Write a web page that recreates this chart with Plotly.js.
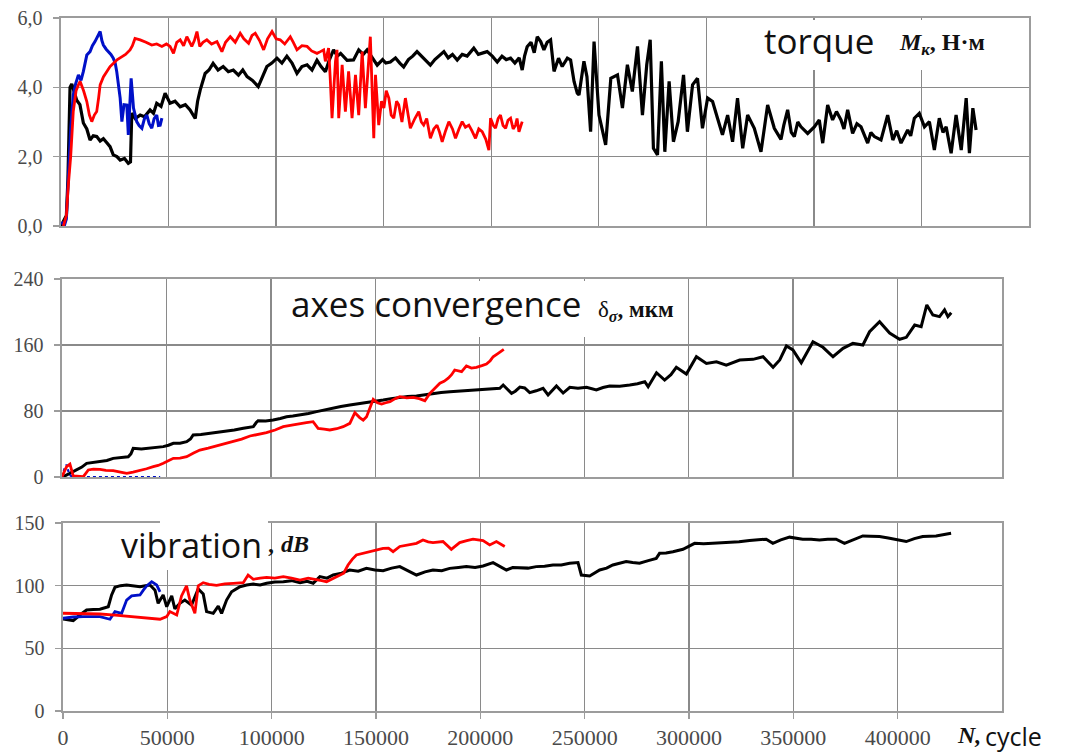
<!DOCTYPE html>
<html>
<head>
<meta charset="utf-8">
<script src="https://cdn.plot.ly/plotly-3.0.1.min.js"></script>
<style>html,body{margin:0;padding:0;background:#fff;}#chart{width:1066px;height:753px;}</style>
</head>
<body>
<div id="chart"></div>
<script>
// ---------- DATA ----------
// Torque M, N·m
const torqueBlack = [[0,0],[2500,0.3],[3200,1.3],[4200,4.0],[5000,4.1],[6000,3.9],[7300,3.63],[8800,3.5],[10400,2.97],[12000,2.8],[13500,2.48],[15000,2.6],[16600,2.58],[18200,2.45],[19700,2.52],[21300,2.4],[22800,2.29],[24300,2.05],[26000,2.0],[27500,1.9],[29500,1.95],[31300,1.81],[32300,1.85],[32900,3.26],[34500,3.1],[36800,3.2],[38800,3.15],[41400,3.35],[43000,3.25],[44500,3.54],[46500,3.45],[48400,3.83],[50700,3.54],[53000,3.6],[55400,3.44],[57800,3.5],[60000,3.35],[62400,3.1],[63500,3.6],[64700,3.92],[67000,4.4],[68800,4.5],[70700,4.69],[73000,4.5],[75400,4.6],[77800,4.45],[80100,4.5],[82500,4.35],[84500,4.5],[86500,4.31],[89000,4.2],[91700,4.02],[93500,4.3],[95700,4.6],[98000,4.7],[100400,4.84],[102700,4.7],[105000,4.9],[107400,4.7],[109700,4.4],[112000,4.6],[114400,4.65],[116700,4.5],[119000,4.78],[120900,4.6],[122900,4.45],[124800,4.8],[126700,5.08],[128500,4.9],[130000,4.98],[133000,4.78],[136000,4.79],[138400,5.08],[140500,4.95],[142300,5.08],[144600,4.85],[147000,4.64],[149500,4.8],[151000,4.7],[153100,4.73],[155500,4.85],[157500,4.7],[159300,4.59],[161500,4.8],[163500,4.9],[165500,5.03],[167500,4.9],[169600,4.75],[171700,4.64],[173800,4.8],[175800,4.9],[178000,5.03],[180000,4.85],[182000,4.95],[184200,4.79],[186500,4.95],[188800,4.9],[191900,5.13],[194000,4.95],[196000,5.0],[198100,5.03],[200500,4.9],[202800,4.73],[205000,4.9],[207000,4.8],[209000,4.84],[211000,4.7],[213000,4.85],[214400,4.5],[215500,4.9],[216700,5.17],[218500,5.3],[220000,5.0],[221400,5.46],[223000,5.32],[224500,5.08],[226000,5.3],[227600,5.37],[229200,4.46],[231300,4.84],[233000,4.6],[235400,4.84],[236900,4.79],[238500,4.17],[240000,3.83],[240800,3.78],[243100,4.75],[244500,4.31],[246200,2.72],[247800,5.32],[250100,3.2],[253200,2.34],[255600,4.26],[258700,4.36],[261000,3.4],[263300,4.65],[265600,3.88],[268000,5.18],[270300,3.2],[272300,4.65],[273900,5.37],[275400,2.24],[277300,2.05],[279100,4.75],[280700,2.14],[282700,4.17],[284700,2.43],[286900,3.01],[289400,4.36],[291200,2.72],[293600,4.07],[295900,4.26],[298200,2.82],[300600,3.69],[302900,3.59],[305200,3.11],[307500,2.63],[309900,3.2],[312200,2.43],[314500,3.69],[316900,2.24],[319200,3.2],[322300,2.82],[325400,2.14],[328500,3.49],[331600,2.82],[334700,2.5],[336000,2.9],[337800,3.35],[339500,2.7],[340900,2.58],[342500,3.0],[344000,2.86],[347100,2.67],[350200,2.86],[352500,3.06],[354100,2.39],[356400,3.49],[358700,3.06],[360500,3.3],[362600,3.06],[364000,2.8],[365700,3.35],[368000,2.67],[370000,2.95],[371900,2.86],[373500,2.6],[375000,2.39],[376500,2.7],[378100,2.58],[381200,2.48],[384300,3.2],[386700,2.48],[388500,2.75],[390500,2.39],[393600,2.77],[395000,2.6],[396700,3.11],[399000,3.25],[401400,2.86],[403700,3.01],[406000,2.19],[408300,3.11],[410000,2.7],[411500,2.86],[413800,2.1],[416100,3.2],[418500,2.19],[420800,3.69],[422300,2.1],[423900,3.4],[425400,2.77]];
const torqueRed = [[1100,0],[2500,0.3],[3400,1.18],[4500,2.0],[5700,3.3],[7000,3.9],[8100,4.07],[8900,4.17],[10500,3.9],[12000,3.59],[13200,3.2],[14300,3.01],[15500,3.2],[16600,3.3],[17500,3.7],[18200,4.07],[19700,4.3],[21300,4.46],[22800,4.6],[24300,4.69],[26200,4.8],[28200,4.88],[30000,4.95],[32100,5.08],[33200,5.2],[34400,5.41],[36800,5.37],[39500,5.3],[42200,5.22],[44500,5.25],[46900,5.18],[49000,5.25],[50700,5.18],[52300,4.98],[53800,5.3],[55400,5.37],[57000,5.2],[58500,5.46],[60800,5.18],[62000,5.35],[63200,5.61],[64500,5.18],[66000,5.3],[67800,5.37],[70000,5.25],[72500,5.32],[74800,5.03],[76500,5.3],[78700,5.46],[81000,5.3],[83300,5.56],[85000,5.4],[87200,5.27],[88800,5.5],[90300,5.56],[92300,5.35],[94200,5.08],[96000,5.4],[98100,5.61],[100000,5.4],[101900,5.37],[104000,5.25],[106600,5.46],[108000,5.3],[109700,5.08],[112000,5.2],[114400,5.18],[116500,5.05],[119000,4.98],[120600,5.03],[122100,5.08],[122900,4.75],[124400,5.13],[125200,4.21],[126000,3.11],[127600,4.75],[128300,5.08],[129100,3.11],[130700,4.65],[132200,3.3],[133700,4.46],[135300,3.11],[136900,4.36],[138400,3.2],[140000,5.03],[141500,3.4],[142800,4.6],[143800,5.46],[145400,2.53],[146200,4.36],[147700,2.91],[149000,3.6],[150100,3.4],[151200,3.9],[152400,3.69],[153500,3.2],[154700,3.11],[156000,3.6],[157000,3.5],[158500,3.0],[160100,3.69],[161200,3.2],[162400,2.82],[164500,3.1],[166300,3.3],[167500,3.0],[168600,2.91],[170000,3.1],[171700,2.53],[173300,2.8],[174800,2.91],[176000,2.7],[177200,2.43],[178800,2.75],[180300,3.01],[182000,2.8],[183400,2.53],[185000,2.8],[186500,3.01],[188000,2.85],[189600,2.91],[191000,2.75],[192700,2.53],[194200,2.8],[195800,2.72],[197500,2.5],[198900,2.19],[199700,3.11],[201000,2.9],[202000,2.82],[203200,3.1],[204300,3.2],[205500,2.9],[206700,2.82],[207800,3.05],[209000,3.11],[210200,2.8],[211300,2.91],[212000,3.1],[212900,2.72],[214400,3.01]];
const torqueBlue = [[300,0.12],[1500,0],[2500,0.2],[3400,1.38],[4500,2.8],[5700,3.78],[6800,4.1],[8100,4.36],[9300,4.2],[10400,4.46],[12000,4.93],[13500,5.03],[14600,5.2],[15800,5.32],[17000,5.45],[18200,5.61],[19000,5.35],[19700,5.22],[21000,5.1],[22000,5.03],[23200,4.95],[24300,4.84],[25200,4.7],[25900,4.46],[26700,4.1],[27500,3.69],[28300,3.01],[29300,3.5],[30600,3.49],[31300,2.63],[32000,3.5],[32600,4.26],[33200,3.8],[33700,3.4],[34500,3.2],[35200,3.01],[36300,2.9],[37600,2.82],[38800,3.1],[39900,3.2],[41000,2.95],[42200,2.82],[43300,3.1],[44500,3.2],[45300,2.9],[46100,2.91],[46900,3.11]];

// Axes convergence δ, µm
const convBlack = [[0,0],[600,0.4],[3500,4],[7000,8.5],[9500,12],[11800,16.6],[15000,17.5],[18200,18.6],[21500,20],[24500,22.6],[28000,23.5],[31700,24.6],[33000,28],[34100,34.7],[38000,34],[41500,34.7],[45000,35.5],[48500,36.8],[51000,38.5],[53300,40.8],[56500,41],[59700,42.8],[61500,46],[62800,50.9],[66500,51.5],[70800,52.9],[74500,53.5],[78900,55],[82500,57],[86800,59],[89500,60],[91600,61],[93000,66],[93900,68.3],[97500,68],[101100,69],[104500,71],[107500,73],[110500,74],[113900,75],[118000,77],[121900,79.2],[126000,81.5],[129800,84],[133500,85.5],[137800,87.3],[141500,88.5],[145800,90],[150000,91.5],[153800,93.3],[157500,95],[161700,96.6],[165500,97.5],[169700,98.2],[173500,99.8],[177700,101.4],[181500,102.3],[185700,103.4],[189500,104],[193600,104.6],[197500,105],[201600,105.5],[205500,106.5],[209600,107.5],[211200,111.5],[213000,107],[215200,101.4],[217000,104],[219200,109],[221500,108],[223900,102.2],[227000,104.5],[230300,107.5],[232700,99.4],[234800,105],[236700,110.3],[239900,101.8],[243100,108.7],[247000,107.5],[251100,108.7],[255800,105.5],[259000,108.5],[262200,110.3],[267000,110],[271800,111.5],[275500,113],[279000,115.5],[280600,109.5],[284600,126.4],[288500,117.5],[291500,124],[294100,132.9],[298900,124.8],[303700,145.8],[308500,137.7],[313300,139.7],[318000,135.7],[321000,139],[324400,141.8],[330800,142.6],[335600,145.8],[340400,132.9],[343600,141.8],[346800,158.8],[349900,154],[353900,138.5],[359500,164],[364300,157.2],[369100,145.8],[373900,156],[378600,162],[383400,160],[386600,176.1],[391400,188.2],[396200,174.5],[401000,166.9],[404200,169.3],[408200,184.2],[411300,182.2],[414000,208.5],[416900,196.4],[420100,194.4],[422500,202.5],[424100,194.4],[425700,199.2]];
const convRed = [[0,0.4],[2200,12.5],[3800,15.7],[5400,1.2],[10200,0.4],[12600,8.5],[15000,9.5],[18200,9.3],[21000,8],[24500,7.7],[28000,6],[31000,4.4],[34000,6],[37300,7.7],[40500,10],[43700,12.5],[46000,14],[48500,16.6],[51000,20],[53300,22.6],[56500,23],[59700,24.6],[63000,29],[66000,32.7],[70000,35],[74000,37.6],[78000,40],[82000,42.8],[86000,46],[90000,49.7],[94000,51.5],[97900,53.7],[102000,57],[105900,61],[110000,63],[113900,65],[117000,66],[120200,67],[121500,63],[122600,59],[125500,58],[128200,57],[131500,58.5],[134600,61],[137800,65],[140200,78],[142500,72],[144200,69],[145800,73],[147500,85],[149000,94.2],[151000,90],[153000,88.5],[155000,90],[157000,91.3],[159500,95],[161700,97.4],[165000,96],[168100,96.6],[171000,95],[173700,92.5],[176100,101.4],[178500,107],[180900,113.6],[182900,116],[184900,119.7],[186500,124],[188000,129.7],[191300,127.7],[193600,134.6],[196000,132],[198400,132.9],[201000,135],[203200,137],[205000,141],[206400,145.8],[208800,149.9],[211500,154.7]];
const convBlue = [[0,0],[1200,10],[2200,15],[3500,3],[5000,0],[47000,0]];

// Vibration, dB
const vibBlack = [[0,73.5],[2500,73],[4900,72],[8100,76.6],[11300,80.6],[14500,81],[17700,81.2],[21700,83.2],[23300,92.6],[24900,98.7],[27500,100],[30500,100.5],[34000,99.8],[36900,99.2],[39500,100],[41700,100.5],[44100,96.4],[45600,85.9],[48000,92.6],[49700,83.2],[52100,91.8],[53600,81.5],[56000,85.9],[58400,88.5],[61600,84.5],[64800,97.4],[67200,93.4],[68800,79.3],[72000,77.9],[74400,83.7],[76000,77.9],[78400,88.5],[80800,95.1],[84800,99.2],[88000,100.5],[91200,101.3],[94500,100.5],[97600,101.9],[101500,103],[105600,103.2],[109500,104],[113600,102.4],[117000,103.5],[119900,101.9],[123100,107.2],[126500,106],[129500,108.5],[133500,110],[137400,112.5],[141500,111.5],[145400,113.8],[149500,112.5],[153400,112],[157500,114],[161400,115.2],[165000,112],[169400,108.5],[173500,111],[177300,112.5],[181500,112],[185300,113.8],[189500,114.5],[193300,115.2],[197500,114.5],[201300,115.7],[206100,118.4],[209500,115],[212500,112.5],[215500,114.5],[218900,114.5],[222800,114],[226800,115.2],[230800,115.5],[234800,116.5],[238800,116.5],[242800,117.9],[246800,118.4],[248400,108.5],[252400,107.7],[257200,112.5],[260500,114],[263500,116.5],[266500,117.5],[269900,119.2],[273000,118.5],[276300,117.9],[280500,120],[284300,121.8],[285900,125.8],[289000,126],[292300,127.1],[297100,129],[302700,133.8],[307000,133.5],[311400,133.8],[315500,134],[319400,134.4],[324000,135],[329000,136],[333000,136.5],[337000,137.1],[340200,133.8],[344000,136.5],[348200,138.7],[354500,137.1],[358500,137],[362500,136.5],[366500,137],[370500,137.1],[374500,133.8],[379000,137],[383300,139.7],[387000,139.5],[391300,139.2],[395500,138],[399300,136.5],[404100,135.2],[408000,137.5],[412000,139.2],[418400,139.7],[422000,140.5],[425600,141.8]];
const vibRed = [[0,78],[5000,77.8],[10000,77.6],[17700,77.4],[25000,76.5],[33700,75.3],[40000,74.5],[46500,73.2],[49700,75.3],[51200,79.3],[54500,76.6],[56800,91.8],[59200,99.8],[60800,88.5],[63200,78],[64800,99.8],[67200,102.4],[70000,101],[73600,100.2],[77500,101.5],[81600,101.9],[86400,102.4],[88700,108.5],[91200,105.1],[94500,106],[97600,106.6],[101500,106],[105600,107.2],[109500,106],[113600,104.5],[117500,106],[121500,105.1],[124000,104],[126300,103.2],[129500,106],[132700,108.5],[134500,110],[136600,116.5],[138600,121],[140600,124.5],[143000,125.5],[145400,126.3],[149500,128],[153400,129.8],[156000,130],[158200,127.1],[161400,131.3],[165500,132.5],[169400,133.8],[172500,136.5],[175000,135],[177300,134.4],[182100,135.2],[186100,129],[190100,134.4],[193500,136],[196500,137.1],[201300,136],[204500,132.5],[207700,135.2],[210000,133],[211700,131.3]];
const vibBlue = [[0,74],[5000,75],[9700,75.3],[17700,75.3],[22500,73.2],[24900,79.3],[28100,78],[30500,88.5],[32900,91.8],[36900,92.6],[38500,96.4],[40100,99.8],[42500,103.2],[44900,100.5],[46500,95.1]];

const xTickVals = [0,50000,100000,150000,200000,250000,300000,350000,400000];
const xTickText = ['0','50000','100000','150000','200000','250000','300000','350000','400000'];
const xGridVals = [0,50000,100000,150000,200000,250000,300000,350000,400000,450000];
const torqueTicks = [0,2,4,6];
const torqueTickText = ['0,0','2,0','4,0','6,0'];
const convTicks = [0,80,160,240];
const vibTicks = [0,50,100,150];

// ---------- CHART ----------
const W = 1066, H = 753;
const px = v => v / W;
const py = v => 1 - v / H;

function tr(data, xa, ya, color, width, dash) {
  return {
    x: data.map(d => d[0]), y: data.map(d => d[1]),
    xaxis: xa, yaxis: ya, type: 'scatter', mode: 'lines',
    line: {color: color, width: width, dash: dash || 'solid'},
    hoverinfo: 'skip', showlegend: false
  };
}

const BLACK = '#000000', RED = '#ff0000', BLUE = '#0010c8';
const traces = [
  tr(torqueBlack, 'x', 'y', BLACK, 3.2),
  tr(torqueBlue, 'x', 'y', BLUE, 3),
  tr(torqueRed, 'x', 'y', RED, 2.8),
  tr(convBlack, 'x2', 'y2', BLACK, 3),
  tr(convBlue, 'x2', 'y2', BLUE, 2.2, 'dot'),
  tr(convRed, 'x2', 'y2', RED, 2.8),
  tr(vibBlack, 'x3', 'y3', BLACK, 3),
  tr(vibBlue, 'x3', 'y3', BLUE, 2.8),
  tr(vibRed, 'x3', 'y3', RED, 2.8)
];

const GRID = '#8a8a8a', LINE = '#9c9c9c', TICKC = '#4a4a4a';
function xax(domain, anchor, labels) {
  return {
    domain: domain, anchor: anchor, range: [0, 450000], fixedrange: true,
    tickmode: 'array', tickvals: labels ? xTickVals : xGridVals,
    ticktext: labels ? xTickText : xGridVals.map(String),
    showticklabels: labels, ticks: labels ? 'outside' : '', ticklen: 6, tickcolor: LINE, tickwidth: 1.3,
    ticklabelstandoff: 0,
    showgrid: true, gridcolor: GRID, gridwidth: 1.3, zeroline: false,
    showline: true, linecolor: LINE, linewidth: 1.6, mirror: true,
    tickfont: {family: 'Liberation Serif', size: 22, color: TICKC}
  };
}
function yax(domain, anchor, range, vals, text) {
  return {
    domain: domain, anchor: anchor, range: range, fixedrange: true,
    tickmode: 'array', tickvals: vals, ticktext: text || vals.map(String),
    ticks: 'outside', ticklen: 6, tickcolor: LINE, tickwidth: 1.3,
    ticklabelstandoff: 7,
    showgrid: true, gridcolor: GRID, gridwidth: 1.3, zeroline: false,
    showline: true, linecolor: LINE, linewidth: 1.6, mirror: true,
    tickfont: {family: 'Liberation Serif', size: 20, color: TICKC}
  };
}

function whiteBox(x0, y0, x1, y1) {
  return {type: 'rect', xref: 'paper', yref: 'paper', x0: px(x0), x1: px(x1), y0: py(y1), y1: py(y0),
    fillcolor: '#ffffff', line: {width: 0}, layer: 'above'};
}
function ann(text, xpx, ypx, font) {
  return {text: text, xref: 'paper', yref: 'paper', x: px(xpx), y: py(ypx),
    xanchor: 'left', yanchor: 'middle', showarrow: false, font: font};
}
const sans = s => ({family: 'Open Sans', size: s, color: '#111'});
const UNIT = {family: 'Liberation Serif', size: 24, color: '#111'};

const layout = {
  width: W, height: H,
  margin: {l: 0, r: 0, t: 0, b: 0},
  paper_bgcolor: '#ffffff', plot_bgcolor: '#ffffff',
  showlegend: false,
  xaxis: xax([px(61), px(1029)], 'y', false),
  yaxis: yax([py(226), py(18)], 'x', [0, 6], torqueTicks, torqueTickText),
  xaxis2: xax([px(62), px(1002)], 'y2', false),
  yaxis2: yax([py(477), py(279)], 'x2', [0, 240], convTicks),
  xaxis3: xax([px(63), px(1002)], 'y3', true),
  yaxis3: yax([py(711), py(523)], 'x3', [0, 150], vibTicks),
  shapes: [
    whiteBox(745, 20, 1000, 70),
    whiteBox(380, 281, 597, 337),
    whiteBox(160, 518, 268, 570)
  ],
  annotations: [
    ann('torque', 762, 41, sans(35)),
    ann('<b><i>M<sub>к</sub></i>, Н·м</b>', 897, 44, UNIT),
    ann('axes convergence', 289, 303, sans(35)),
    ann('δ<sub><b><i>σ</i></b></sub><b>, мкм</b>', 596, 311, {family: 'Liberation Serif', size: 23, color: '#111'}),
    ann('vibration', 119, 545, sans(34)),
    ann('<b><i>, dB</i></b>', 266, 544, UNIT),
    ann('<b><i>N,</i></b>', 955, 735, {family: 'Liberation Serif', size: 24, color: '#111'}),
    ann('cycle', 983, 736, sans(25))
  ]
};

Plotly.newPlot('chart', traces, layout, {staticPlot: true, displayModeBar: false});
</script>
</body>
</html>
